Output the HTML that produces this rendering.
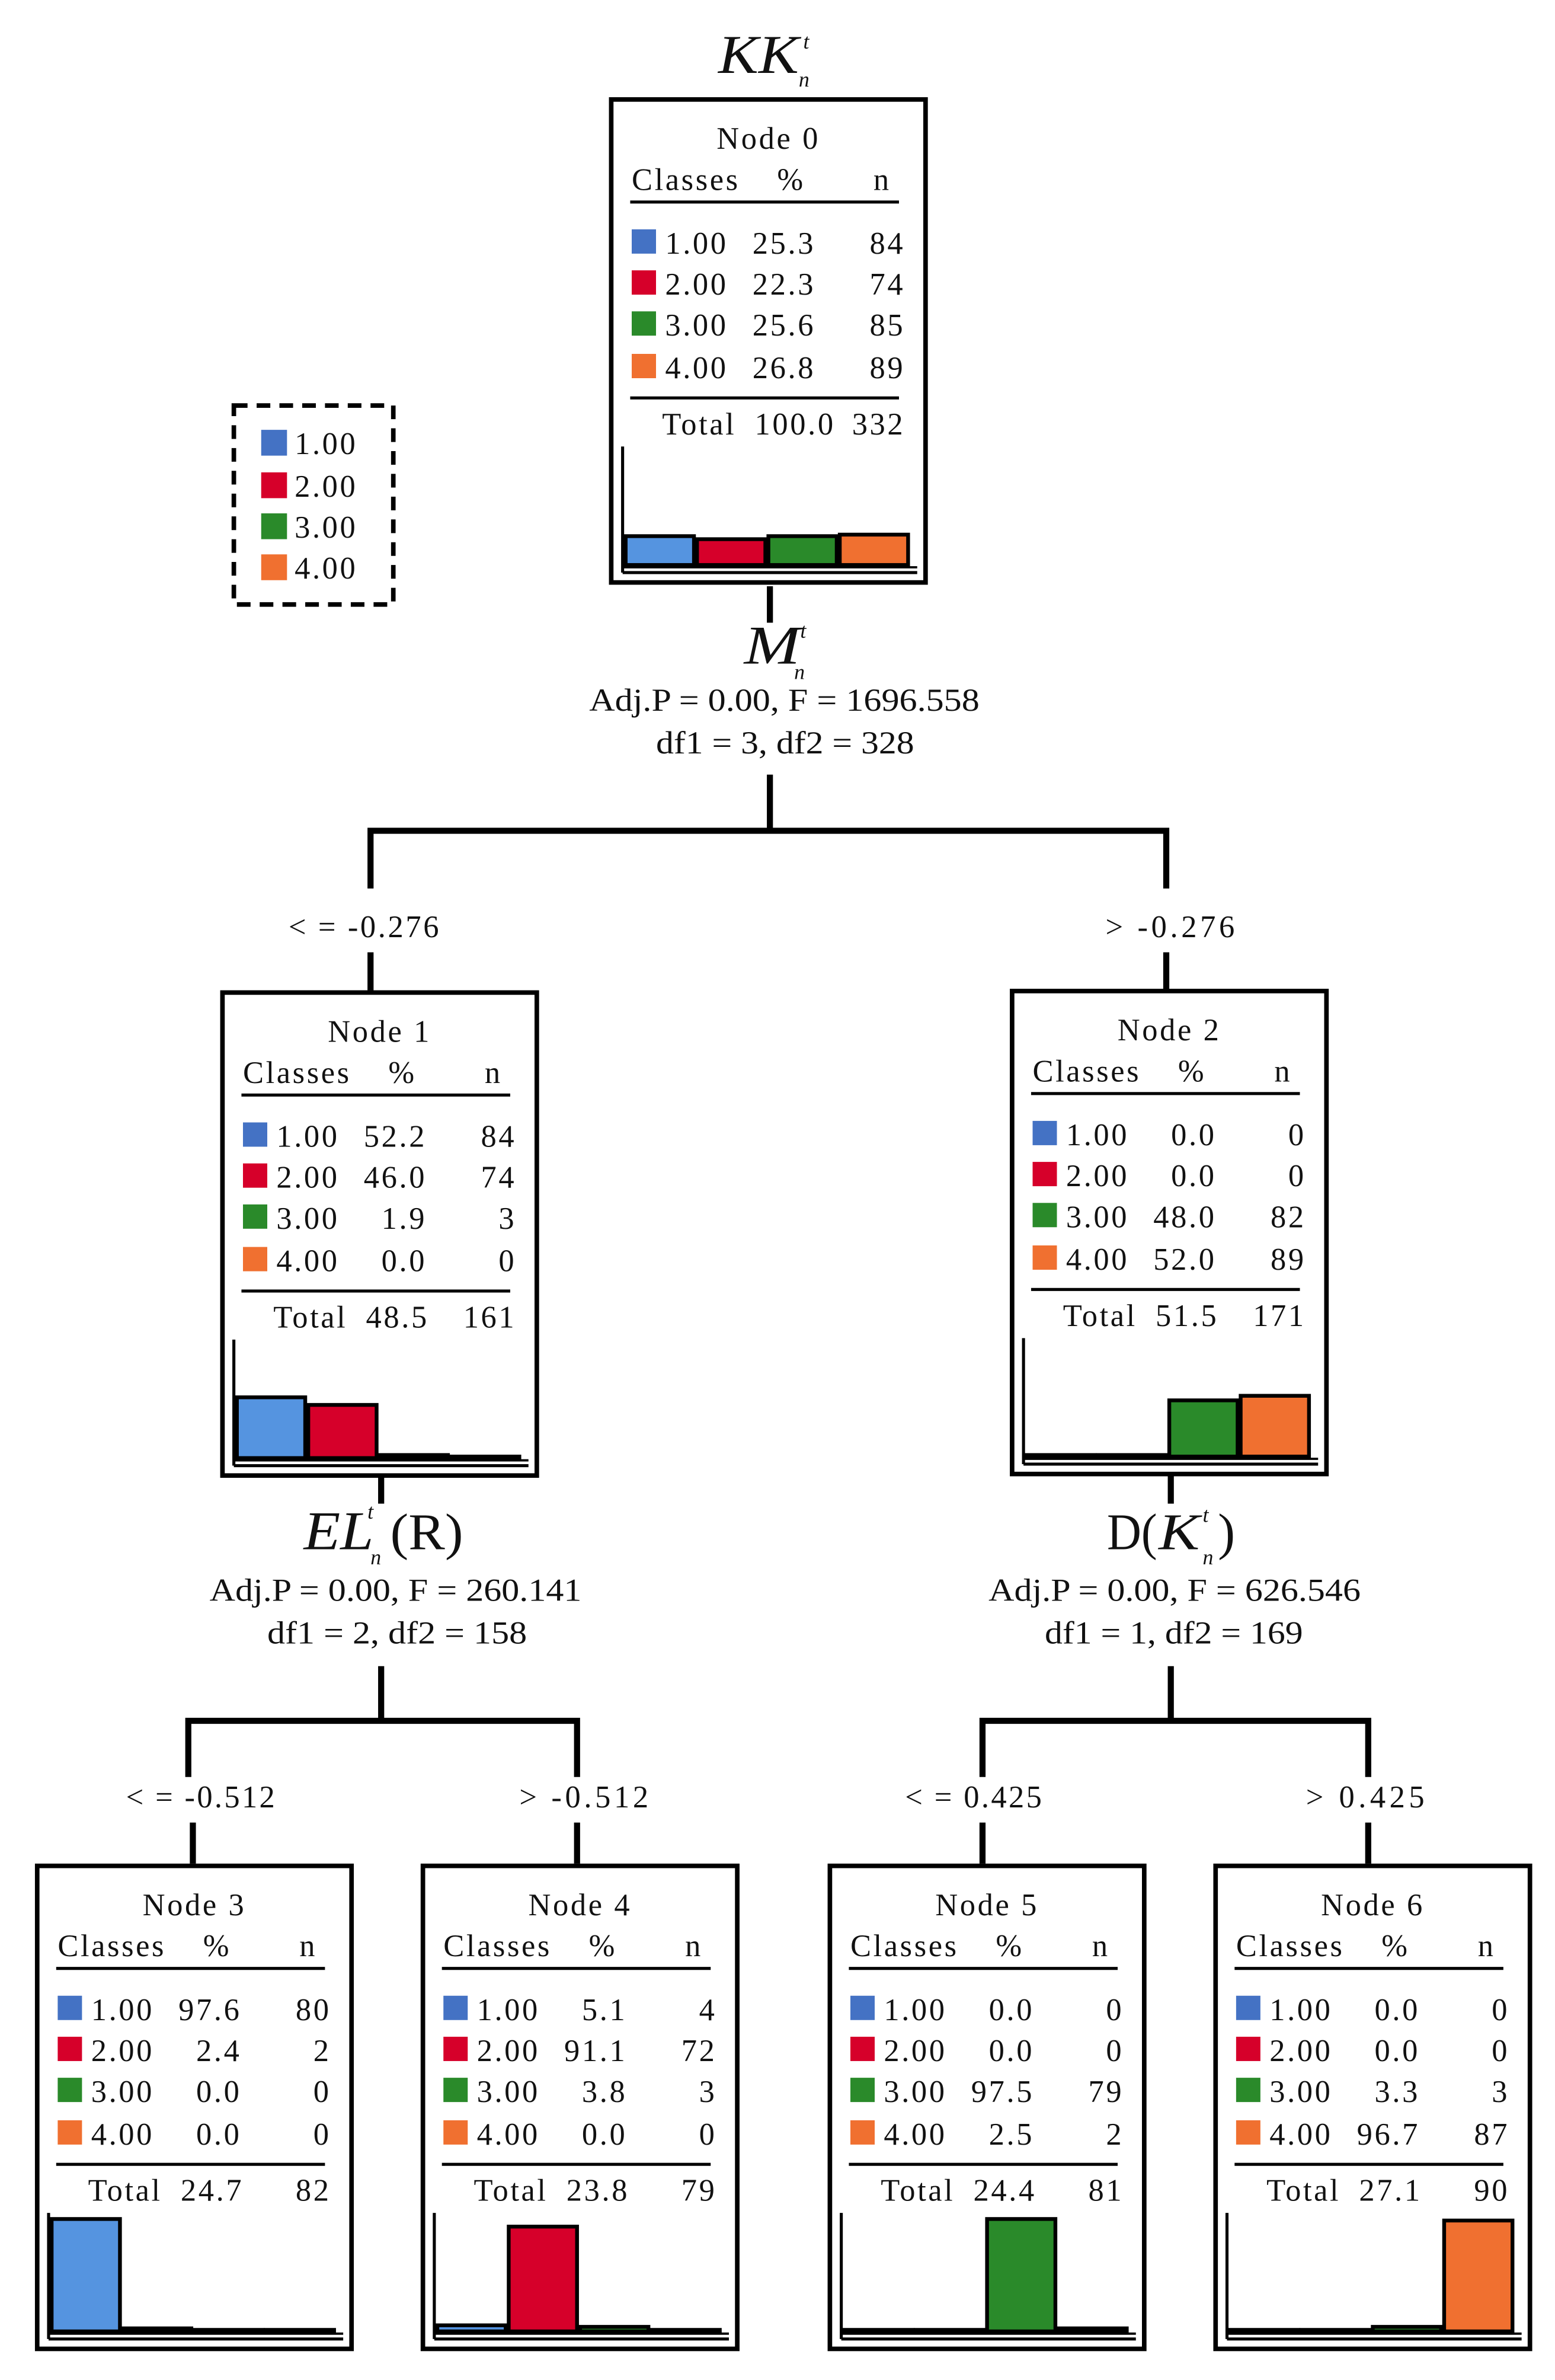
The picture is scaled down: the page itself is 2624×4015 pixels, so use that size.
<!DOCTYPE html>
<html><head><meta charset="utf-8"><style>html,body{margin:0;padding:0;background:#fff}svg{display:block}.t{letter-spacing:1.4px}</style></head>
<body>
<svg width="2624" height="4015" viewBox="0 0 1024 1567" preserveAspectRatio="none" xmlns="http://www.w3.org/2000/svg" font-family="Liberation Serif, serif" fill="#111">
<defs>
<g id="frame" class="t">
<rect x="1.5" y="1.5" width="207" height="318" fill="#fff" stroke="#000" stroke-width="3"/>
<text x="15" y="61" font-size="20.5">Classes</text>
<text x="120" y="61" font-size="20.5" text-anchor="middle">%</text>
<text x="180" y="61" font-size="20.5" text-anchor="middle">n</text>
<line x1="14" y1="69" x2="191" y2="69" stroke="#000" stroke-width="2"/>
<rect x="15" y="87" width="16" height="16" fill="#4472c4"/>
<rect x="15" y="114" width="16" height="16" fill="#d6002a"/>
<rect x="15" y="141" width="16" height="16" fill="#2a8a2a"/>
<rect x="15" y="169" width="16" height="16" fill="#f07030"/>
<text x="37" y="103" font-size="20.5">1.00</text>
<text x="37" y="130" font-size="20.5">2.00</text>
<text x="37" y="157" font-size="20.5">3.00</text>
<text x="37" y="185" font-size="20.5">4.00</text>
<line x1="14" y1="198" x2="191" y2="198" stroke="#000" stroke-width="2"/>
<text x="35" y="222" font-size="20.5">Total</text>
<line x1="9" y1="230" x2="9" y2="313" stroke="#000" stroke-width="2"/>
<line x1="9" y1="309.5" x2="203" y2="309.5" stroke="#000" stroke-width="1.5"/>
<line x1="9" y1="313" x2="203" y2="313" stroke="#000" stroke-width="2"/>
</g>
</defs>

<g stroke="#000" stroke-width="4" fill="none">
<line x1="507" y1="386" x2="507" y2="410"/>
<line x1="507" y1="510" x2="507" y2="547"/>
<polyline points="244,585 244,547 768,547 768,585"/>
<line x1="244" y1="627" x2="244" y2="652"/>
<line x1="768" y1="627" x2="768" y2="652"/>
<line x1="251" y1="972" x2="251" y2="990"/>
<line x1="251" y1="1097" x2="251" y2="1133"/>
<polyline points="124,1170 124,1133 380,1133 380,1170"/>
<line x1="127" y1="1200" x2="127" y2="1227"/>
<line x1="380" y1="1200" x2="380" y2="1227"/>
<line x1="771" y1="971" x2="771" y2="990"/>
<line x1="771" y1="1097" x2="771" y2="1133"/>
<polyline points="647,1170 647,1133 901,1133 901,1170"/>
<line x1="647" y1="1200" x2="647" y2="1227"/>
<line x1="901" y1="1200" x2="901" y2="1227"/>
</g>

<rect x="154" y="267" width="105" height="131" fill="none" stroke="#000" stroke-width="3" stroke-dasharray="9,6"/>
<rect x="172" y="283" width="17" height="17" fill="#4472c4"/>
<rect x="172" y="311" width="17" height="17" fill="#d6002a"/>
<rect x="172" y="338" width="17" height="17" fill="#2a8a2a"/>
<rect x="172" y="365" width="17" height="17" fill="#f07030"/>
<g class="t" font-size="20.5">
<text x="194" y="299">1.00</text>
<text x="194" y="327">2.00</text>
<text x="194" y="354">3.00</text>
<text x="194" y="381">4.00</text>
</g>

<text x="473" y="48" font-size="36" font-style="italic" textLength="53" lengthAdjust="spacingAndGlyphs">KK</text>
<text x="529" y="32" font-size="14" font-style="italic">t</text>
<text x="526" y="57" font-size="14" font-style="italic">n</text>
<text x="490" y="437" font-size="36" font-style="italic" textLength="37" lengthAdjust="spacingAndGlyphs">M</text>
<text x="527" y="420" font-size="14" font-style="italic">t</text>
<text x="523" y="447" font-size="14" font-style="italic">n</text>
<text x="388" y="468" font-size="21" textLength="257" lengthAdjust="spacingAndGlyphs">Adj.P = 0.00, F = 1696.558</text>
<text x="432" y="496" font-size="21" textLength="170" lengthAdjust="spacingAndGlyphs">df1 = 3, df2 = 328</text>
<text x="190" y="617" font-size="20.5" textLength="99" lengthAdjust="spacing">&lt; = -0.276</text>
<text x="728" y="617" font-size="20.5" textLength="85" lengthAdjust="spacing">&gt;  -0.276</text>

<text x="200" y="1020" font-size="36" font-style="italic" textLength="46" lengthAdjust="spacingAndGlyphs">EL</text>
<text x="242" y="1000" font-size="14" font-style="italic">t</text>
<text x="244" y="1030" font-size="14" font-style="italic">n</text>
<text x="257" y="1020" font-size="34" textLength="48" lengthAdjust="spacingAndGlyphs">(R)</text>
<text x="138" y="1054" font-size="21" textLength="245" lengthAdjust="spacingAndGlyphs">Adj.P = 0.00, F = 260.141</text>
<text x="176" y="1082" font-size="21" textLength="171" lengthAdjust="spacingAndGlyphs">df1 = 2, df2 = 158</text>

<text x="729" y="1020" font-size="34" textLength="33" lengthAdjust="spacingAndGlyphs">D(</text>
<text x="763" y="1020" font-size="34" font-style="italic" textLength="27" lengthAdjust="spacingAndGlyphs">K</text>
<text x="792" y="1002" font-size="14" font-style="italic">t</text>
<text x="792" y="1030" font-size="14" font-style="italic">n</text>
<text x="802" y="1020" font-size="34">)</text>
<text x="651" y="1054" font-size="21" textLength="245" lengthAdjust="spacingAndGlyphs">Adj.P = 0.00, F = 626.546</text>
<text x="688" y="1082" font-size="21" textLength="170" lengthAdjust="spacingAndGlyphs">df1 = 1, df2 = 169</text>

<text x="83" y="1190" font-size="20.5" textLength="98" lengthAdjust="spacing">&lt; = -0.512</text>
<text x="342" y="1190" font-size="20.5" textLength="85" lengthAdjust="spacing">&gt;  -0.512</text>
<text x="596" y="1190" font-size="20.5" textLength="90" lengthAdjust="spacing">&lt; = 0.425</text>
<text x="860" y="1190" font-size="20.5" textLength="78" lengthAdjust="spacing">&gt;  0.425</text>

<g transform="translate(401,64)" font-size="20.5" class="t">
<use href="#frame"/>
<text x="105" y="34" text-anchor="middle">Node 0</text>
<g text-anchor="end"><text x="136" y="103">25.3</text><text x="136" y="130">22.3</text><text x="136" y="157">25.6</text><text x="136" y="185">26.8</text>
<text x="195" y="103">84</text><text x="195" y="130">74</text><text x="195" y="157">85</text><text x="195" y="185">89</text><text x="195" y="222">332</text></g>
<text x="96" y="222">100.0</text>
<g stroke="#000" stroke-width="2.5">
<rect x="11" y="289" width="45" height="19" fill="#5594e0"/><rect x="58" y="291" width="45" height="17" fill="#d6002a"/><rect x="105" y="289" width="45" height="19" fill="#2a8a2a"/><rect x="152" y="288" width="45" height="20" fill="#f07030"/></g>
</g>

<g transform="translate(145,652)" font-size="20.5" class="t">
<use href="#frame"/>
<text x="105" y="34" text-anchor="middle">Node 1</text>
<g text-anchor="end"><text x="136" y="103">52.2</text><text x="136" y="130">46.0</text><text x="136" y="157">1.9</text><text x="136" y="185">0.0</text>
<text x="195" y="103">84</text><text x="195" y="130">74</text><text x="195" y="157">3</text><text x="195" y="185">0</text><text x="195" y="222">161</text></g>
<text x="96" y="222">48.5</text>
<g stroke="#000" stroke-width="2.5">
<rect x="11" y="268" width="45" height="40" fill="#5594e0"/><rect x="58" y="273" width="45" height="35" fill="#d6002a"/><rect x="105" y="306" width="45" height="2" fill="#2a8a2a"/><rect x="152" y="307" width="45" height="1" fill="#f07030"/></g>
</g>

<g transform="translate(665,651)" font-size="20.5" class="t">
<use href="#frame"/>
<text x="105" y="34" text-anchor="middle">Node 2</text>
<g text-anchor="end"><text x="136" y="103">0.0</text><text x="136" y="130">0.0</text><text x="136" y="157">48.0</text><text x="136" y="185">52.0</text>
<text x="195" y="103">0</text><text x="195" y="130">0</text><text x="195" y="157">82</text><text x="195" y="185">89</text><text x="195" y="222">171</text></g>
<text x="96" y="222">51.5</text>
<g stroke="#000" stroke-width="2.5">
<rect x="11" y="307" width="45" height="1" fill="#5594e0"/><rect x="58" y="307" width="45" height="1" fill="#d6002a"/><rect x="105" y="271" width="45" height="37" fill="#2a8a2a"/><rect x="152" y="268" width="45" height="40" fill="#f07030"/></g>
</g>

<g transform="translate(23,1227)" font-size="20.5" class="t">
<use href="#frame"/>
<text x="105" y="34" text-anchor="middle">Node 3</text>
<g text-anchor="end"><text x="136" y="103">97.6</text><text x="136" y="130">2.4</text><text x="136" y="157">0.0</text><text x="136" y="185">0.0</text>
<text x="195" y="103">80</text><text x="195" y="130">2</text><text x="195" y="157">0</text><text x="195" y="185">0</text><text x="195" y="222">82</text></g>
<text x="96" y="222">24.7</text>
<g stroke="#000" stroke-width="2.5">
<rect x="11" y="234" width="45" height="74" fill="#5594e0"/><rect x="58" y="306" width="45" height="2" fill="#d6002a"/><rect x="105" y="307" width="45" height="1" fill="#2a8a2a"/><rect x="152" y="307" width="45" height="1" fill="#f07030"/></g>
</g>

<g transform="translate(277,1227)" font-size="20.5" class="t">
<use href="#frame"/>
<text x="105" y="34" text-anchor="middle">Node 4</text>
<g text-anchor="end"><text x="136" y="103">5.1</text><text x="136" y="130">91.1</text><text x="136" y="157">3.8</text><text x="136" y="185">0.0</text>
<text x="195" y="103">4</text><text x="195" y="130">72</text><text x="195" y="157">3</text><text x="195" y="185">0</text><text x="195" y="222">79</text></g>
<text x="96" y="222">23.8</text>
<g stroke="#000" stroke-width="2.5">
<rect x="11" y="304" width="45" height="4" fill="#5594e0"/><rect x="58" y="239" width="45" height="69" fill="#d6002a"/><rect x="105" y="305" width="45" height="3" fill="#2a8a2a"/><rect x="152" y="307" width="45" height="1" fill="#f07030"/></g>
</g>

<g transform="translate(545,1227)" font-size="20.5" class="t">
<use href="#frame"/>
<text x="105" y="34" text-anchor="middle">Node 5</text>
<g text-anchor="end"><text x="136" y="103">0.0</text><text x="136" y="130">0.0</text><text x="136" y="157">97.5</text><text x="136" y="185">2.5</text>
<text x="195" y="103">0</text><text x="195" y="130">0</text><text x="195" y="157">79</text><text x="195" y="185">2</text><text x="195" y="222">81</text></g>
<text x="96" y="222">24.4</text>
<g stroke="#000" stroke-width="2.5">
<rect x="11" y="307" width="45" height="1" fill="#5594e0"/><rect x="58" y="307" width="45" height="1" fill="#d6002a"/><rect x="105" y="234" width="45" height="74" fill="#2a8a2a"/><rect x="152" y="306" width="45" height="2" fill="#f07030"/></g>
</g>

<g transform="translate(799,1227)" font-size="20.5" class="t">
<use href="#frame"/>
<text x="105" y="34" text-anchor="middle">Node 6</text>
<g text-anchor="end"><text x="136" y="103">0.0</text><text x="136" y="130">0.0</text><text x="136" y="157">3.3</text><text x="136" y="185">96.7</text>
<text x="195" y="103">0</text><text x="195" y="130">0</text><text x="195" y="157">3</text><text x="195" y="185">87</text><text x="195" y="222">90</text></g>
<text x="96" y="222">27.1</text>
<g stroke="#000" stroke-width="2.5">
<rect x="11" y="307" width="45" height="1" fill="#5594e0"/><rect x="58" y="307" width="45" height="1" fill="#d6002a"/><rect x="105" y="305" width="45" height="3" fill="#2a8a2a"/><rect x="152" y="235" width="45" height="73" fill="#f07030"/></g>
</g>
</svg>
</body></html>
